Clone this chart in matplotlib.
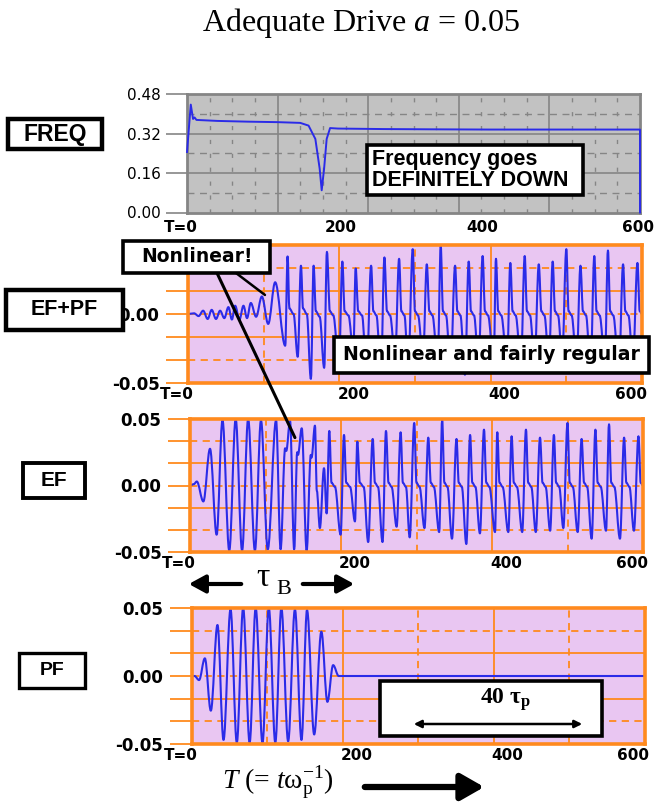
import matplotlib
matplotlib.use("Agg")
import matplotlib.pyplot as plt
import matplotlib.transforms as mtrans
from matplotlib.path import Path
from matplotlib.patches import PathPatch, Rectangle, FancyArrowPatch, ConnectionPatch

plt.rcParams['mathtext.fontset'] = 'custom'
plt.rcParams['mathtext.rm'] = 'Liberation Serif'
plt.rcParams['mathtext.it'] = 'Liberation Serif:italic'
plt.rcParams['mathtext.bf'] = 'Liberation Serif:bold'

# ---------------- data ----------------
x_tick_values = [0, 200, 400, 600]
x_tick_text = ['T=0', '200', '400', '600']
freq_ytick_values = [0.0, 0.16, 0.32, 0.48]
freq_ytick_text = ['0.00', '0.16', '0.32', '0.48']
wave_ytick_values = [-0.05, 0.0, 0.05]
wave_ytick_text = ['-0.05', '0.00', '0.05']

freq_T = [0, 5, 8, 10, 12.5, 40, 80, 120, 150, 161, 170, 175.7, 178.4, 181.6,
          185, 189.5, 200, 260, 320, 400, 480, 560, 600, 600]
freq_val = [0.245, 0.437, 0.379, 0.385, 0.375, 0.371, 0.368, 0.366, 0.363, 0.352,
            0.298, 0.178, 0.090, 0.178, 0.298, 0.342, 0.340, 0.338, 0.337, 0.336,
            0.336, 0.336, 0.336, 0.0]

pf_T = [0, 4, 10, 17.7, 25.6, 34.4, 42.4, 51.7, 60, 68.4, 77, 85, 94, 102.4, 111,
        119, 128, 137, 145.7, 153, 162.5, 172, 180, 187.6, 195, 600]
pf_val = [0, 0, -0.003, 0.013, -0.0255, 0.0375, -0.047, 0.049, -0.049, 0.05, -0.049,
          0.05, -0.049, 0.05, -0.049, 0.05, -0.048, 0.049, -0.047, 0.0485, -0.043,
          0.0326, -0.019, 0.008, 0.0, 0.0]

ef_T = [0, 5, 9, 17.7, 26.5, 35.3, 43, 52, 60.5, 69, 77, 86, 94, 103, 114, 120,
        126, 127.5, 132.5, 138, 142, 143, 148, 154.5, 160, 161, 165.5, 168, 172,
        177.5, 181, 184.5,
        187.5, 192, 199.5, 204, 207, 212, 218.5, 221.6, 225, 230, 236, 242, 245, 249,
        255, 259.6, 263, 267, 273.7, 279, 282, 286, 291, 297, 300, 304, 310.6, 315.6,
        319, 323, 330, 334, 337, 341, 347, 353, 356, 360, 366, 371, 374, 378, 384,
        389.4, 392.5, 396.5, 404, 407, 410, 414, 421.6, 426, 429, 433, 440, 445, 448,
        452, 458, 463.6, 467, 471, 477, 482, 485, 489, 494.5, 500, 503, 507, 513.5,
        518.7, 522, 526, 532, 537, 540, 544, 551, 555, 558, 562, 569.5, 575, 578,
        582, 588, 594, 597, 600]
ef_val = [0, 0.001, 0.003, -0.012, 0.0276, -0.037, 0.049, -0.049, 0.05, -0.049, 0.05,
          -0.049, 0.049, -0.048, 0.049, -0.048, 0.028, 0.026, 0.0486, -0.048, 0.025,
          0.023, 0.043, -0.049, 0.023, 0.021, 0.045, -0.004, -0.032, 0.013, -0.021,
          0.041,
          0.002, -0.001, -0.037, 0.038, 0.002, -0.001, -0.027, 0.033, 0.002, -0.001,
          -0.0425, 0.035, 0.002, -0.001, -0.0425, 0.041, 0.002, -0.001, -0.031, 0.040,
          0.002, -0.001, -0.039, 0.047, 0.002, -0.001, -0.032, 0.036, 0.002, -0.001,
          -0.035, 0.049, 0.002, -0.001, -0.040, 0.035, 0.002, -0.001, -0.044, 0.038,
          0.002, -0.001, -0.036, 0.042, 0.002, -0.001, -0.035, 0.040, 0.002, -0.001,
          -0.035, 0.037, 0.002, -0.001, -0.035, 0.042, 0.002, -0.001, -0.035, 0.036,
          0.002, -0.001, -0.034, 0.038, 0.002, -0.001, -0.032, 0.047, 0.002, -0.001,
          -0.035, 0.035, 0.002, -0.001, -0.040, 0.042, 0.002, -0.001, -0.034, 0.046,
          0.002, -0.001, -0.040, 0.036, 0.002, -0.001, -0.034, 0.037, 0.002, 0.0]

# EF+PF: before the pump ends it differs from EF; afterwards PF = 0 so it equals EF
efpf_T_early = [0, 8, 14, 20, 26, 31.3, 37, 42.4, 48, 53.4, 58, 62.3, 68, 73.3, 78,
                83, 90, 97.6, 106, 115.2, 128.5, 131.6, 134, 139.5, 145, 149.3, 152,
                157, 162.4, 166, 169, 174, 180, 183.6]
efpf_val_early = [0, 0.0005, -0.0015, 0.0024, -0.0036, 0.003, -0.0036, 0.0024, -0.003,
                  0.005, -0.004, 0.006, -0.004, 0.006, -0.003, 0.008, -0.002, 0.0127,
                  -0.0072, 0.023, -0.023, 0.0417, 0.004, 0.0, -0.031, 0.035, 0.004,
                  0.0, -0.047, 0.035, 0.002, -0.002, -0.039, 0.045]
efpf_T = efpf_T_early + [t for t in ef_T if t >= 187.5]
efpf_val = efpf_val_early + [v for t, v in zip(ef_T, ef_val) if t >= 187.5]

# ---------------- styling ----------------
W, H = 665, 810
ORANGE = '#ff8a1e'
PINK = '#e9c6f2'
BLUE = '#2b2be8'
GRAYF = '#c2c2c2'
GRAYL = '#858585'
BOLD_SANS = ['DejaVu Sans']
LABEL_SANS = ['Liberation Sans', 'DejaVu Sans']
SERIF = ['Liberation Serif', 'DejaVu Serif']

fig = plt.figure(figsize=(W / 100, H / 100), dpi=100)
fig.patch.set_facecolor('white')


def add_ax(x0, y0, x1, y1):
    return fig.add_axes([x0 / W, 1 - y1 / H, (x1 - x0) / W, (y1 - y0) / H])


def fxy(x, y):
    return (x / W, 1 - y / H)


def smooth_path(t, v):
    verts = [(t[0], v[0])]
    codes = [Path.MOVETO]
    for i in range(1, len(t)):
        d = (t[i] - t[i - 1]) * 0.36
        verts += [(t[i - 1] + d, v[i - 1]), (t[i] - d, v[i]), (t[i], v[i])]
        codes += [Path.CURVE4] * 3
    return Path(verts, codes)


def x_labels(ax, specs, ypix, size=11):
    for val, txt, ha, dx in specs:
        tr = mtrans.offset_copy(ax.get_xaxis_transform(), fig=fig, x=dx, y=-ypix, units='dots')
        ax.text(val, 0, txt, transform=tr, ha=ha, va='center', fontsize=size,
                fontweight='bold', family=BOLD_SANS, color='black')


def style_wave(ax, labels):
    ax.set_xlim(0, 600)
    ax.set_ylim(-0.05, 0.05)
    ax.set_facecolor(PINK)
    for s in ax.spines.values():
        s.set_color(ORANGE)
        s.set_linewidth(2.6)
        s.set_zorder(5)
    for x in [200, 400]:
        ax.axvline(x, color=ORANGE, lw=1.3, zorder=1)
    for x in [100, 300, 500]:
        ax.axvline(x, color=ORANGE, lw=1.3, ls=(0, (4, 3)), zorder=1)
    for y in [-1 / 60, 1 / 60]:
        ax.axhline(y, color=ORANGE, lw=1.3, zorder=1)
    for y in [-1 / 30, 0, 1 / 30]:
        ax.axhline(y, color=ORANGE, lw=1.3, ls=(0, (4, 3)), zorder=1)
    ax.set_xticks([])
    ax.set_yticks(wave_ytick_values)
    ax.set_yticklabels(labels)
    ax.set_yticks([-1 / 30, -1 / 60, 1 / 60, 1 / 30], minor=True)
    ax.tick_params(axis='y', which='both', length=15.5, width=1.3, color=ORANGE, pad=5)
    for lab in ax.get_yticklabels():
        lab.set_fontweight('bold')
        lab.set_fontsize(12)
        lab.set_family(BOLD_SANS)


# ---------------- FREQ panel ----------------
ax_f = add_ax(187, 94, 640, 212.5)
ax_f.set_xlim(0, 600)
ax_f.set_ylim(0, 0.48)
ax_f.set_facecolor(GRAYF)
for s in ax_f.spines.values():
    s.set_color(GRAYL)
    s.set_linewidth(2)
for x in range(30, 600, 30):
    if x % 120 == 0:
        ax_f.axvline(x, color=GRAYL, lw=1.2, zorder=1)
    else:
        ax_f.axvline(x, color=GRAYL, lw=1.0, ls=(0, (3, 7)), zorder=1)
for y in [0.16, 0.32]:
    ax_f.axhline(y, color=GRAYL, lw=1.2, zorder=1)
for y in [0.08, 0.24, 0.40]:
    ax_f.axhline(y, color=GRAYL, lw=1.0, ls=(0, (5, 4)), zorder=1)
ax_f.plot(freq_T, freq_val, color=BLUE, lw=1.4, zorder=3, clip_on=False)
ax_f.set_xticks([])
ax_f.set_yticks(freq_ytick_values)
ax_f.set_yticklabels(freq_ytick_text)
ax_f.tick_params(axis='y', length=15, width=1.2, color=GRAYL, pad=4, labelsize=11)
x_labels(ax_f, [(x_tick_values[0], x_tick_text[0], 'center', -6),
                (x_tick_values[1], x_tick_text[1], 'center', 3),
                (x_tick_values[2], x_tick_text[2], 'center', -7),
                (x_tick_values[3], x_tick_text[3], 'center', -2)], 15)

# ---------------- wave panels ----------------
ax_s = add_ax(188, 245, 642, 383)
ax_e = add_ax(190, 419, 643, 552)
ax_p = add_ax(191.5, 608, 644.5, 744)
panels = [(ax_s, efpf_T, efpf_val, wave_ytick_text[:2] + ['']),   # top label hidden by box
          (ax_e, ef_T, ef_val, wave_ytick_text),
          (ax_p, pf_T, pf_val, wave_ytick_text)]
for ax, T, V, labs in panels:
    style_wave(ax, labs)
    ax.add_patch(PathPatch(smooth_path(T, V), fill=False, ec=BLUE, lw=1.5, zorder=3,
                           joinstyle='round', capstyle='round'))
    x_labels(ax, [(x_tick_values[0], x_tick_text[0], 'right', 6),
                  (x_tick_values[1], x_tick_text[1], 'left', -2),
                  (x_tick_values[2], x_tick_text[2], 'left', -2),
                  (x_tick_values[3], x_tick_text[3], 'right', 5)], 12)

# ---------------- boxes and annotations ----------------
def label_box(x0, y0, x1, y1, text, size, lw=3.0, family=LABEL_SANS, ha='center', tx=None,
              ls=1.2):
    fig.add_artist(Rectangle(fxy(x0, y1), (x1 - x0) / W, (y1 - y0) / H,
                             transform=fig.transFigure, fc='white', ec='black', lw=lw,
                             zorder=10))
    if tx is None:
        tx = (x0 + x1) / 2
    fig.text(*fxy(tx, (y0 + y1) / 2), text, ha=ha, va='center', fontsize=size,
             fontweight='bold', family=family, zorder=11, linespacing=ls)


label_box(8, 119, 102, 149, 'FREQ', 16.5, lw=3.2)
label_box(6, 290, 123, 330, 'EF+PF', 15.5, lw=3.2)
label_box(23, 463, 85, 498, 'EF', 15, lw=2.8)
label_box(19, 653, 85, 688, 'PF', 14, lw=2.4)
label_box(367, 145, 583, 195, 'Frequency goes\nDEFINITELY DOWN', 15.5, lw=2.6,
          ha='left', tx=372, ls=1.0)
label_box(334, 337, 649, 373, 'Nonlinear and fairly regular', 13.6, lw=2.6, family=BOLD_SANS)

# pointer lines from "Nonlinear!"
fig.add_artist(ConnectionPatch(xyA=fxy(236, 273), coordsA=fig.transFigure,
                               xyB=(101.7, 0.0138), coordsB=ax_s.transData,
                               color='black', lw=1.8, zorder=9))
fig.add_artist(ConnectionPatch(xyA=fxy(217, 273), coordsA=fig.transFigure,
                               xyB=(139, 0.036), coordsB=ax_e.transData,
                               color='black', lw=2.2, zorder=9))
label_box(123, 241, 270, 273, 'Nonlinear!', 13.5, lw=2.6, family=BOLD_SANS)

# 40 tau_p box
label_box(380, 681, 602, 736, '', 10, lw=2.6)
fig.text(*fxy(505, 700), r'$\mathbf{40\ τ}_{\mathbf{p}}$', ha='center', va='center',
         fontsize=17, zorder=11)
fig.add_artist(FancyArrowPatch(fxy(411, 724), fxy(585, 724), transform=fig.transFigure,
                               arrowstyle='<|-|>', mutation_scale=11, lw=1.8,
                               color='black', zorder=12))

# tau_B arrows
fig.add_artist(FancyArrowPatch(fxy(244, 584), fxy(186, 584), transform=fig.transFigure,
                               arrowstyle='-|>,head_length=0.55,head_width=0.3',
                               mutation_scale=18, lw=3.0, color='black', zorder=12))
fig.add_artist(FancyArrowPatch(fxy(300, 584), fxy(357, 584), transform=fig.transFigure,
                               arrowstyle='-|>,head_length=0.55,head_width=0.3',
                               mutation_scale=18, lw=3.0, color='black', zorder=12))
fig.text(*fxy(263, 578), 'τ', ha='center', va='center', fontsize=24, family=SERIF)
fig.text(*fxy(284, 590), 'B', ha='center', va='center', fontsize=16, family=SERIF)

# x-axis label and arrow
fig.text(*fxy(278, 783), r'$T$ (= $t$ω$_{\mathrm{p}}^{\mathrm{-1}}$)', ha='center',
         va='center', fontsize=20, family=SERIF)
fig.add_artist(FancyArrowPatch(fxy(362, 787), fxy(487, 787), transform=fig.transFigure,
                               arrowstyle='-|>,head_length=0.7,head_width=0.4',
                               mutation_scale=20, lw=4.5, color='black', zorder=12))

# title
fig.text(*fxy(361, 23), r'Adequate Drive $a$ = 0.05', ha='center', va='center',
         fontsize=23, family=SERIF)

fig.savefig('out.png', dpi=100, facecolor='white')
